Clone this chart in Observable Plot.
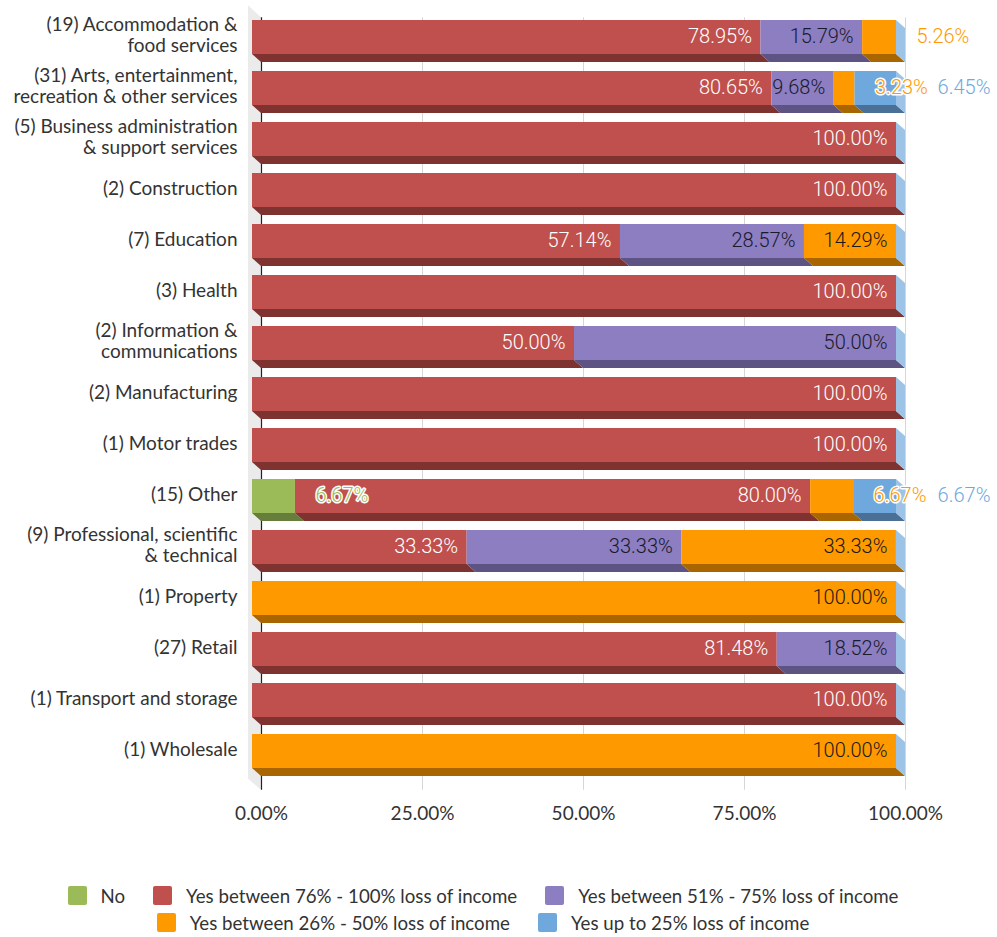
<!DOCTYPE html>
<html><head><meta charset="utf-8">
<script src="https://cdn.jsdelivr.net/npm/d3@7"></script>
<script src="https://cdn.jsdelivr.net/npm/@observablehq/plot@0.6"></script>
<style>
body{margin:0;background:#fff;font-family:Lato,sans-serif;}
#chart svg{display:block;}
#legend{margin-top:32px;}
.lrow{display:flex;justify-content:center;align-items:center;height:27px;font-size:18.7px;color:#333;padding-right:31px;}
.litem{display:flex;align-items:center;margin:0 14px;white-space:nowrap;}
.sw{width:19px;height:19px;border-radius:2px;margin-right:14px;}
</style></head><body><div id="chart"></div><div id="legend"></div><script>
const categories = [
  "(19) Accommodation &\nfood services",
  "(31) Arts, entertainment,\nrecreation & other services",
  "(5) Business administration\n& support services",
  "(2) Construction",
  "(7) Education",
  "(3) Health",
  "(2) Information &\ncommunications",
  "(2) Manufacturing",
  "(1) Motor trades",
  "(15) Other",
  "(9) Professional, scientific\n& technical",
  "(1) Property",
  "(27) Retail",
  "(1) Transport and storage",
  "(1) Wholesale"
];
const series = [
  "No",
  "Yes between 76% - 100% loss of income",
  "Yes between 51% - 75% loss of income",
  "Yes between 26% - 50% loss of income",
  "Yes up to 25% loss of income"
];
const noValues     = [0, 0, 0, 0, 0, 0, 0, 0, 0, 6.67, 0, 0, 0, 0, 0];
const loss76to100  = [78.95, 80.65, 100, 100, 57.14, 100, 50, 100, 100, 80.00, 33.33, 0, 81.48, 100, 0];
const loss51to75   = [15.79, 9.68, 0, 0, 28.57, 0, 50, 0, 0, 0, 33.33, 0, 18.52, 0, 0];
const loss26to50   = [5.26, 3.23, 0, 0, 14.29, 0, 0, 0, 0, 6.67, 33.33, 100, 0, 0, 100];
const lossUpTo25   = [0, 6.45, 0, 0, 0, 0, 0, 0, 0, 6.67, 0, 0, 0, 0, 0];
const xTicks = [0, 25, 50, 75, 100];
const legendRows = [[0, 1, 2], [3, 4]];

const colors = ["#9BBB59", "#C0504D", "#8C7EC1", "#FF9900", "#6FA8DC"];
const darkColors = ["#677D3B", "#7E3331", "#5D5483", "#A86500", "#4A7096"];
const sideColor = "#9DC3E6";
const insideText = ["#ffffff", "#ffffff", "#1a1a2e", "#1a1a1a", "#1a1a1a"];

const valueLists = [noValues, loss76to100, loss51to75, loss26to50, lossUpTo25];
const segs = [];
categories.forEach((c, i) => {
  let acc = 0;
  series.forEach((s, j) => {
    const v = valueLists[j][i];
    if (v > 0) segs.push({category: c, series: s, j, value: v, x1: acc, x2: acc + v});
    acc += v;
  });
});
const inside = segs.filter(d => d.value >= 8);
const outsideNear = segs.filter(d => d.value < 8 && d.j !== 4);
const outsideFar = segs.filter(d => d.value < 8 && d.j === 4);
const fmt = d => d.toFixed(2) + "%";
const DX = 9, DY = 8;

function bottomFaces(index, {x, y}) {
  const g = d3.create("svg:g");
  const bw = y.bandwidth();
  for (const s of segs) {
    const x1 = x(s.x1), x2 = x(s.x2), yb = y(s.category) + bw;
    g.append("path")
      .attr("d", `M${x1},${yb}L${x2},${yb}L${x2 + DX},${yb + DY}L${x1 + DX},${yb + DY}Z`)
      .attr("fill", darkColors[s.j]);
  }
  return g.node();
}
function sideFaces(index, {x, y}) {
  const g = d3.create("svg:g");
  const bw = y.bandwidth();
  const x2 = x(100);
  for (const c of categories) {
    const yt = y(c), yb = yt + bw;
    g.append("path")
      .attr("d", `M${x2},${yt}L${x2 + DX},${yt + DY}L${x2 + DX},${yb + DY}L${x2},${yb}Z`)
      .attr("fill", sideColor);
  }
  return g.node();
}
function wall(index, {x, y}) {
  const x0 = x(0);
  const [top, bottom] = y.range();
  return d3.create("svg:path")
    .attr("d", `M${x0 - 4},${top - 4}L${x0 + DX},${top + 8}L${x0 + DX},${bottom + 11}L${x0 - 4},${bottom}Z`)
    .attr("fill", "#ebebeb").node();
}

const barFont = "Roboto, sans-serif";
const chart = Plot.plot({
  width: 997,
  height: 850,
  marginLeft: 252,
  marginRight: 101,
  marginTop: 9.35,
  marginBottom: 71.25,
  style: {fontFamily: "Lato, sans-serif", background: "white"},
  x: {domain: [0, 100], axis: null},
  y: {domain: categories, paddingInner: 0.337, paddingOuter: 0.1685, axis: null},
  marks: [
    wall,
    Plot.ruleX([25, 50, 75, 100], {dx: DX, insetTop: 8, insetBottom: -11, stroke: "#d6d6d6", strokeWidth: 1}),
    Plot.ruleX([0], {dx: DX, insetTop: 8, insetBottom: -11, stroke: "#222", strokeWidth: 1.2}),
    Plot.axisX(xTicks, {tickSize: 0, tickPadding: 27, dx: DX, tickFormat: fmt, fontSize: 19, fill: "#333", label: null}),
    bottomFaces,
    Plot.barX(segs, {x1: "x1", x2: "x2", y: "category", fill: d => colors[d.j]}),
    sideFaces,
    Plot.text(categories, {x: () => 0, y: d => d, text: d => d, textAnchor: "end", dx: -15, dy: -2.5,
      fontSize: 19, lineHeight: 1.1, fill: "#333"}),
    Plot.text(inside, {x: "x2", y: "category", text: d => fmt(d.value), textAnchor: "end", dx: -9, dy: -1,
      fontSize: 20, fontWeight: 300, fontFamily: barFont, fill: d => insideText[d.j]}),
    Plot.text(outsideNear, {x: "x2", y: "category", text: d => fmt(d.value), textAnchor: "start", dx: 20, dy: -1,
      fontSize: 20, fontWeight: 300, fontFamily: barFont, fill: d => colors[d.j], stroke: "white", strokeWidth: 3}),
    Plot.text(outsideFar, {x: "x2", y: "category", text: d => fmt(d.value), textAnchor: "start", dx: 41, dy: -1,
      fontSize: 20, fontWeight: 300, fontFamily: barFont, fill: d => colors[d.j]})
  ]
});
document.getElementById("chart").append(chart);

const legend = document.getElementById("legend");
legendRows.forEach((row) => {
  const r = document.createElement("div");
  r.className = "lrow";
  for (const j of row) {
    const it = document.createElement("div");
    it.className = "litem";
    const sw = document.createElement("span");
    sw.className = "sw";
    sw.style.background = colors[j];
    const tx = document.createElement("span");
    tx.textContent = series[j];
    it.append(sw, tx);
    r.append(it);
  }
  legend.append(r);
});
</script></body></html>
